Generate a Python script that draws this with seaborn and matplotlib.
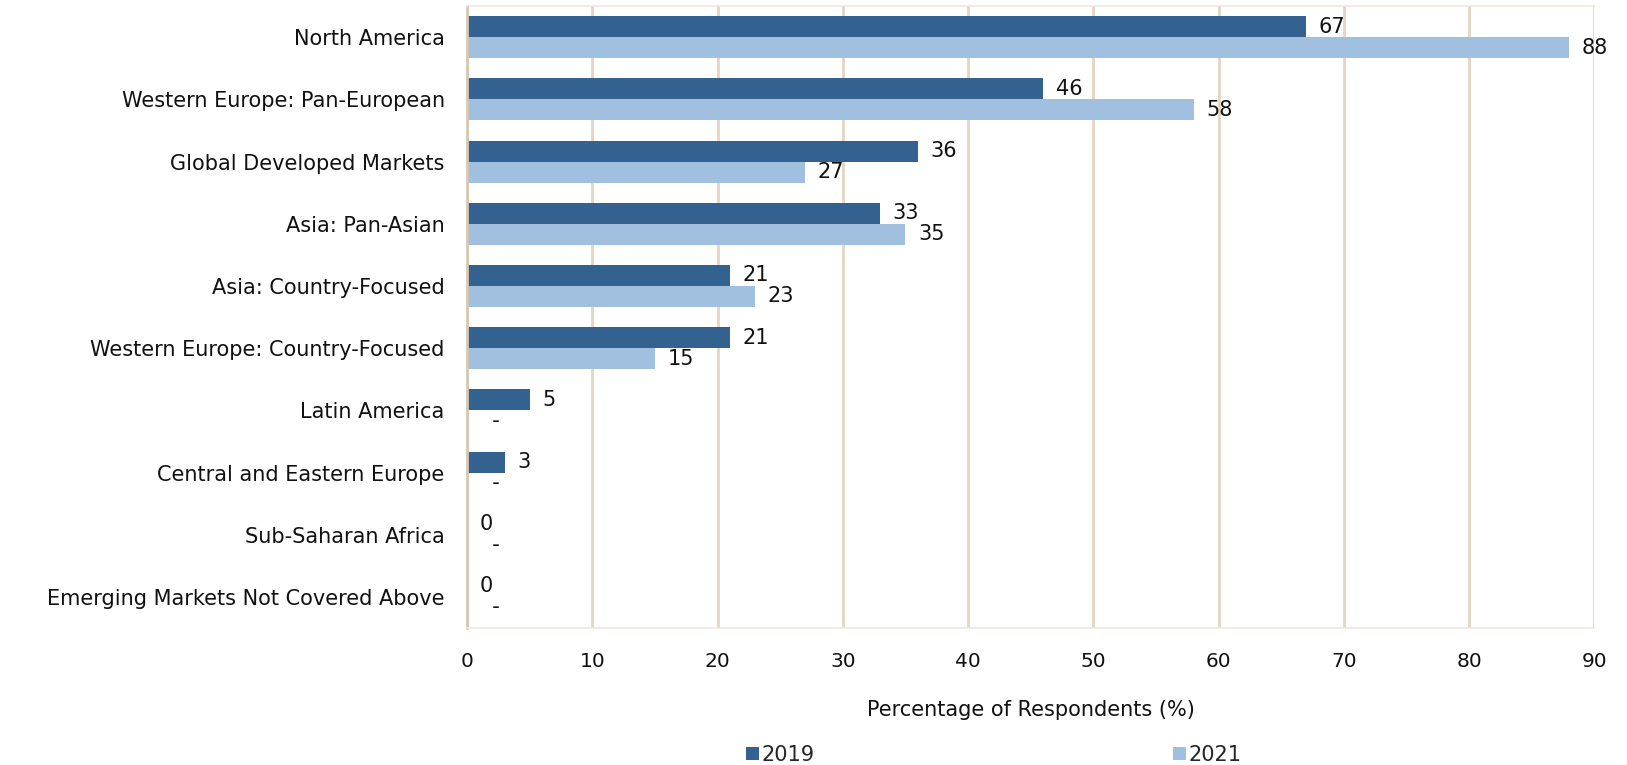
import numpy as np
import pandas as pd
import matplotlib
matplotlib.use("Agg")
import matplotlib.pyplot as plt
import seaborn as sns

regions = [
    "North America",
    "Western Europe: Pan-European",
    "Global Developed Markets",
    "Asia: Pan-Asian",
    "Asia: Country-Focused",
    "Western Europe: Country-Focused",
    "Latin America",
    "Central and Eastern Europe",
    "Sub-Saharan Africa",
    "Emerging Markets Not Covered Above",
]
pct_2019 = [67, 46, 36, 33, 21, 21, 5, 3, 0, 0]
pct_2021 = [88, 58, 27, 35, 23, 15, None, None, None, None]
years = ["2019", "2021"]
x_ticks = [0, 10, 20, 30, 40, 50, 60, 70, 80, 90]

dark_blue = "#336291"
light_blue = "#a1bfde"
grid_col = "#e3d6c1"
text_col = "#111111"

sns.set_theme(style="white")
plt.rcParams["font.family"] = ["DejaVu Sans"]

rows = []
for r, a, b in zip(regions, pct_2019, pct_2021):
    rows.append({"region": r, "year": years[0], "value": a,
                 "label": "  -" if a is None else str(a)})
    rows.append({"region": r, "year": years[1], "value": 0 if b is None else b,
                 "label": "  -" if b is None else str(b)})
df = pd.DataFrame(rows)

fig = plt.figure(figsize=(16.27, 7.65), dpi=100)
ax = fig.add_axes([0.287, 0.179, 0.693, 0.813])

sns.barplot(data=df, y="region", x="value", hue="year", order=regions,
            hue_order=years, palette=[dark_blue, light_blue], orient="h",
            width=0.675, saturation=1, ax=ax, legend=True, errorbar=None,
            linewidth=0)

# value labels beside each bar
for cont, yr in zip(ax.containers, years):
    sub = df[df["year"] == yr].set_index("region").loc[regions]
    ax.bar_label(cont, labels=list(sub["label"]), padding=9,
                 fontsize=15, color=text_col)

ax.set_xlim(0, 90)
ax.set_xticks(x_ticks)
ax.set_ylim(len(regions) - 0.5, -0.5)
ax.grid(axis="x", color=grid_col, linewidth=2)
ax.set_axisbelow(True)
ax.set_xlabel("Percentage of Respondents (%)", fontsize=15, labelpad=21, color=text_col)
ax.set_ylabel("")
ax.tick_params(axis="both", length=0, colors=text_col)
ax.tick_params(axis="x", pad=17, labelsize=14.5)
ax.tick_params(axis="y", pad=16, labelsize=15)

for side in ["top", "bottom"]:
    ax.spines[side].set_color("#efe8dc")
    ax.spines[side].set_linewidth(1.2)
ax.spines["left"].set_color("#d6c8b2")
ax.spines["left"].set_linewidth(2)
ax.spines["right"].set_visible(False)

handles, labels = ax.get_legend_handles_labels()
ax.legend_.remove()
fig.legend(handles, labels, loc="lower center", bbox_to_anchor=(0.611, -0.024),
           ncol=2, frameon=False, fontsize=15, handlelength=0.6, handleheight=0.6,
           handletextpad=0.15, columnspacing=17.2)

fig.savefig("out.png", dpi=100)
